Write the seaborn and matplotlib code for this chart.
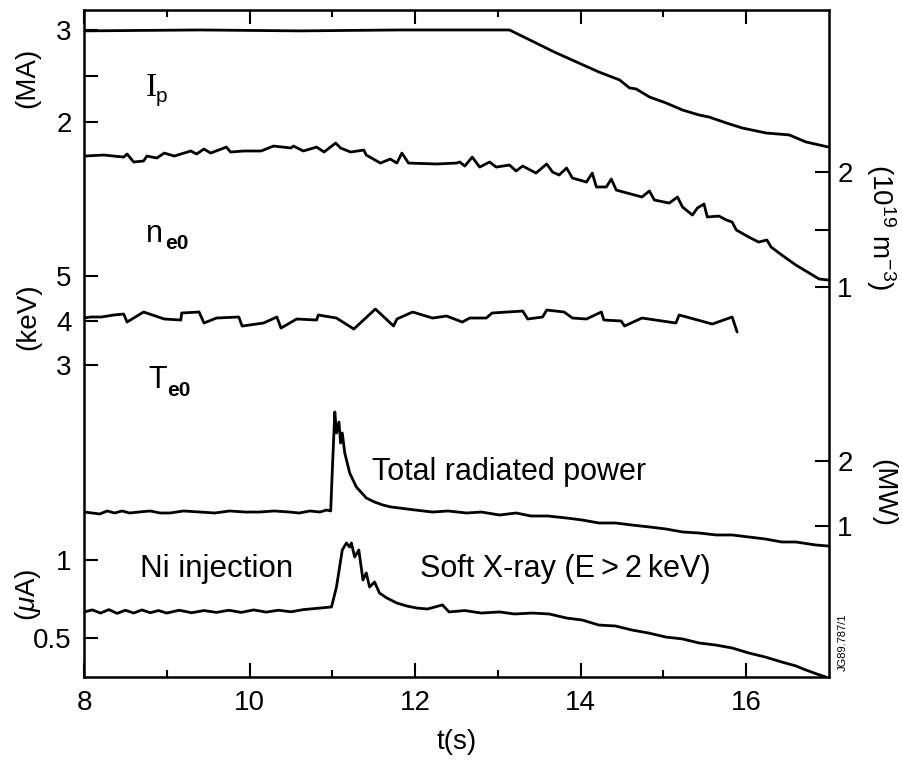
import matplotlib
matplotlib.use("Agg")
import matplotlib.pyplot as plt
import seaborn as sns
import numpy as np
import pandas as pd

# ---------------- data ----------------
# Plasma current I_p (MA)
ip_t = [8.00, 9.40, 10.61, 11.81, 13.14, 13.68, 14.22, 14.47, 14.59, 14.67, 14.83, 15.03,
        15.23, 15.43, 15.55, 15.76, 15.95, 16.24, 16.52, 16.72, 16.99]
ip_v = [2.99, 3.00, 2.99, 3.00, 3.00, 2.761, 2.543, 2.457, 2.370, 2.359, 2.272, 2.207,
        2.130, 2.076, 2.054, 1.989, 1.935, 1.880, 1.859, 1.783, 1.728]

# Central density n_e0 (1e19 m^-3)
ne_t = [8.00, 8.24, 8.48, 8.52, 8.60, 8.72, 8.76, 8.88, 8.97, 9.09, 9.29, 9.36, 9.45, 9.53,
        9.72, 9.77, 9.93, 10.14, 10.29, 10.50, 10.53, 10.65, 10.81, 10.90, 11.04, 11.10,
        11.22, 11.38, 11.41, 11.58, 11.70, 11.78, 11.84, 11.92, 12.26, 12.50, 12.54, 12.60,
        12.69, 12.78, 12.90, 12.98, 13.14, 13.22, 13.30, 13.46, 13.59, 13.66, 13.74, 13.83,
        13.90, 14.07, 14.14, 14.19, 14.31, 14.37, 14.43, 14.74, 14.83, 14.89, 15.07, 15.17,
        15.23, 15.35, 15.41, 15.49, 15.53, 15.67, 15.76, 15.83, 15.88, 16.03, 16.15, 16.25,
        16.30, 16.43, 16.60, 16.76, 16.88, 16.99]
ne_v = [2.139, 2.148, 2.130, 2.157, 2.087, 2.096, 2.139, 2.122, 2.165, 2.139, 2.183, 2.157,
        2.200, 2.165, 2.217, 2.174, 2.183, 2.183, 2.226, 2.209, 2.226, 2.183, 2.217, 2.174,
        2.252, 2.209, 2.174, 2.191, 2.148, 2.078, 2.113, 2.078, 2.165, 2.078, 2.070, 2.078,
        2.087, 2.052, 2.130, 2.043, 2.087, 2.043, 2.061, 2.009, 2.052, 1.991, 2.070, 2.000,
        1.974, 2.035, 1.948, 1.913, 1.991, 1.870, 1.870, 1.939, 1.843, 1.783, 1.835, 1.757,
        1.730, 1.783, 1.696, 1.626, 1.687, 1.722, 1.609, 1.617, 1.583, 1.565, 1.496, 1.435,
        1.391, 1.409, 1.348, 1.278, 1.191, 1.122, 1.070, 1.061]

# Central electron temperature T_e0 (keV)
te_t = [8.00, 8.08, 8.21, 8.36, 8.48, 8.52, 8.72, 8.97, 9.17, 9.18, 9.39, 9.45, 9.60, 9.87,
        9.91, 10.17, 10.33, 10.38, 10.57, 10.81, 10.83, 11.05, 11.26, 11.52, 11.74, 11.78,
        11.97, 12.21, 12.38, 12.57, 12.66, 12.86, 12.93, 13.30, 13.36, 13.54, 13.59, 13.80,
        13.90, 14.07, 14.25, 14.28, 14.49, 14.53, 14.74, 15.15, 15.19, 15.59, 15.83, 15.89]
te_v = [4.056, 4.079, 4.079, 4.124, 4.146, 3.966, 4.191, 4.034, 4.011, 4.169, 4.191, 3.944,
        4.056, 4.079, 3.876, 3.944, 4.079, 3.831, 4.034, 4.011, 4.124, 4.056, 3.809, 4.258,
        3.876, 4.034, 4.191, 4.056, 4.101, 3.966, 4.056, 4.056, 4.169, 4.213, 4.034, 4.079,
        4.236, 4.191, 4.056, 4.034, 4.191, 4.011, 3.989, 3.876, 4.056, 3.944, 4.124, 3.921,
        4.079, 3.742]

# Total radiated power (MW)
prad_t = [8.00, 8.10, 8.19, 8.28, 8.37, 8.46, 8.55, 8.66, 8.80, 8.92, 9.04, 9.20, 9.40,
          9.58, 9.76, 9.94, 10.12, 10.30, 10.48, 10.60, 10.73, 10.85, 10.93, 10.98,
          11.00, 11.03, 11.05, 11.08, 11.10, 11.12, 11.15, 11.21, 11.29, 11.41, 11.51,
          11.61, 11.71, 11.81, 12.00, 12.21, 12.40, 12.62, 12.80, 13.02, 13.22, 13.40,
          13.60, 13.83, 14.02, 14.22, 14.42, 14.62, 14.83, 15.03, 15.23, 15.43, 15.64,
          15.83, 16.03, 16.23, 16.43, 16.60, 16.84, 16.99]
prad_v = [1.215, 1.200, 1.185, 1.231, 1.200, 1.231, 1.200, 1.215, 1.231, 1.200, 1.200,
          1.231, 1.215, 1.200, 1.231, 1.215, 1.215, 1.231, 1.215, 1.200, 1.231, 1.215,
          1.246, 1.231, 1.862, 2.754, 2.431, 2.600, 2.277, 2.431, 2.123, 1.815, 1.600,
          1.431, 1.369, 1.323, 1.292, 1.277, 1.246, 1.215, 1.231, 1.200, 1.215, 1.169,
          1.200, 1.154, 1.154, 1.123, 1.092, 1.046, 1.046, 1.015, 0.985, 0.954, 0.908,
          0.892, 0.862, 0.862, 0.831, 0.800, 0.754, 0.754, 0.708, 0.692]

# Soft X-ray, E > 2 keV (uA)
sxr_t = [8.00, 8.10, 8.20, 8.30, 8.40, 8.50, 8.60, 8.70, 8.80, 8.90, 9.00, 9.15, 9.30, 9.45,
         9.60, 9.75, 9.90, 10.05, 10.20, 10.35, 10.50, 10.65, 10.85, 10.99, 11.05, 11.12,
         11.17, 11.21, 11.23, 11.27, 11.32, 11.37, 11.41, 11.45, 11.51, 11.57, 11.66, 11.78,
         11.90, 12.02, 12.15, 12.33, 12.41, 12.60, 12.80, 13.02, 13.20, 13.42, 13.62, 13.83,
         14.02, 14.22, 14.42, 14.62, 14.82, 15.03, 15.23, 15.43, 15.63, 15.83, 16.03, 16.23,
         16.43, 16.60, 16.72, 16.85, 16.96]
sxr_v = [0.667, 0.680, 0.660, 0.682, 0.658, 0.678, 0.660, 0.680, 0.662, 0.676, 0.660, 0.678,
         0.662, 0.676, 0.664, 0.678, 0.664, 0.680, 0.666, 0.678, 0.668, 0.682, 0.692, 0.699,
         0.827, 1.064, 1.109, 1.083, 1.109, 1.019, 1.064, 0.872, 0.917, 0.827, 0.859, 0.788,
         0.756, 0.724, 0.705, 0.692, 0.686, 0.712, 0.667, 0.676, 0.660, 0.667, 0.654, 0.660,
         0.654, 0.628, 0.615, 0.583, 0.577, 0.551, 0.532, 0.506, 0.494, 0.468, 0.455, 0.436,
         0.404, 0.378, 0.346, 0.321, 0.295, 0.270, 0.250]

x_ticks = [8, 10, 12, 14, 16]

# ---------------- styling ----------------
sns.set_theme(style="ticks")
plt.rcParams["font.family"] = ["Liberation Sans", "DejaVu Sans"]
plt.rcParams["text.color"] = "black"
plt.rcParams["axes.labelcolor"] = "black"
plt.rcParams["xtick.color"] = "black"
plt.rcParams["ytick.color"] = "black"
plt.rcParams["xtick.labelcolor"] = "black"
plt.rcParams["ytick.labelcolor"] = "black"
plt.rcParams["mathtext.fontset"] = "custom"
plt.rcParams["mathtext.rm"] = "Liberation Sans"
plt.rcParams["mathtext.it"] = "Liberation Sans:italic"
plt.rcParams["mathtext.bf"] = "Liberation Sans:bold"

W, H = 902, 767
fig = plt.figure(figsize=(W / 100, H / 100), dpi=100)
fig.patch.set_facecolor("white")

L, R, T, B = 84, 829, 10, 677
rect = [L / W, 1 - B / H, (R - L) / W, (B - T) / H]

LW = 2.0
TICK_FS = 20

ax = fig.add_axes(rect)
ax.set_xlim(8, 17)
for s in ax.spines.values():
    s.set_linewidth(1.8)
    s.set_color("black")
ax.set_xticks(x_ticks)
ax.set_xticks([9, 11, 13, 15], minor=True)
ax.tick_params(axis="x", which="major", direction="in", top=True, bottom=True,
               length=10, width=1.5, labelsize=TICK_FS, pad=9, color="black",
               labelcolor="black")
ax.tick_params(axis="x", which="minor", direction="in", top=True, bottom=True,
               length=5, width=1.5, color="black")
ax.set_xlabel("t(s)", fontsize=TICK_FS, labelpad=10, color="black")

# I_p : left axis (main)
ax.set_ylim(-4.033, 3.217)
ax.set_yticks([2, 2.5, 3])
ax.set_yticklabels(["2", "", "3"])
ax.tick_params(axis="y", direction="in", left=True, right=False, length=10, width=1.5,
               labelsize=TICK_FS, pad=9, color="black", labelcolor="black")
sns.lineplot(x=ip_t, y=ip_v, ax=ax, color="black", lw=LW, estimator=None, sort=False)


def overlay(ylim, side, ticks, labels):
    a = fig.add_axes(rect, sharex=ax)
    a.patch.set_alpha(0)
    for s in a.spines.values():
        s.set_visible(False)
    a.set_ylim(*ylim)
    a.tick_params(axis="x", which="both", bottom=False, top=False,
                  labelbottom=False, labeltop=False)
    if side == "right":
        a.yaxis.tick_right()
        a.tick_params(axis="y", direction="in", right=True, left=False, length=10,
                      width=1.5, labelsize=TICK_FS, pad=6, color="black",
                      labelcolor="black")
    else:
        a.tick_params(axis="y", direction="in", left=True, right=False, length=10,
                      width=1.5, labelsize=TICK_FS, pad=9, color="black",
                      labelcolor="black")
    a.set_yticks(ticks)
    a.set_yticklabels(labels)
    a.set_xlabel("")
    a.set_ylabel("")
    return a


ax_ne = overlay((-2.391, 3.409), "right", [1, 1.5, 2], ["1", "", "2"])
sns.lineplot(x=ne_t, y=ne_v, ax=ax_ne, color="black", lw=LW, estimator=None, sort=False)

ax_te = overlay((-4.011, 10.978), "left", [3, 4, 5], ["3", "4", "5"])
sns.lineplot(x=te_t, y=te_v, ax=ax_te, color="black", lw=LW, estimator=None, sort=False)

ax_mw = overlay((-1.323, 8.938), "right", [1, 2], ["1", "2"])
sns.lineplot(x=prad_t, y=prad_v, ax=ax_mw, color="black", lw=LW, estimator=None, sort=False)

ax_ua = overlay((0.25, 4.526), "left", [0.5, 1], ["0.5", "1"])
sns.lineplot(x=sxr_t, y=sxr_v, ax=ax_ua, color="black", lw=LW, estimator=None, sort=False)

for a in (ax_ne, ax_te, ax_mw, ax_ua):
    a.set_xlim(8, 17)
    a.set_xlabel("")


def ftext(px, py, s, **kw):
    kw.setdefault("color", "black")
    fig.text(px / W, 1 - py / H, s, **kw)


# unit labels
ftext(27, 78, "(MA)", rotation=90, ha="center", va="center", fontsize=20)
ftext(28, 317, "(keV)", rotation=90, ha="center", va="center", fontsize=20)
ftext(28, 595, r"($\mu$A)", rotation=90, ha="center", va="center", fontsize=20)
ftext(881, 227, r"(10$^{19}$ m$^{-3}$)", rotation=270, ha="center", va="center", fontsize=20)
ftext(883, 493, "(MW)", rotation=270, ha="center", va="center", fontsize=20)
ftext(843, 642, "JG89.787/1", rotation=90, ha="center", va="center", fontsize=8)

# trace labels
ftext(146, 96, "I", family="Liberation Serif", fontsize=24, ha="left", va="baseline")
ftext(156, 102, "p", fontsize=15, ha="left", va="baseline")
ftext(146, 242, "n", fontsize=22, ha="left", va="baseline")
ftext(165, 249, "e0", fontsize=15, ha="left", va="baseline", weight="bold")
ftext(148, 388, "T", fontsize=22, ha="left", va="baseline")
ftext(167, 396, "e0", fontsize=15, ha="left", va="baseline", weight="bold")
ftext(372, 480, "Total radiated power", fontsize=22, ha="left", va="baseline")
ftext(140, 577, "Ni injection", fontsize=22.5, ha="left", va="baseline")
ftext(420, 577, "Soft X-ray (E\u2009>\u20092\u2009keV)", fontsize=22, ha="left", va="baseline")

fig.savefig("out.png", dpi=100, facecolor="white")
